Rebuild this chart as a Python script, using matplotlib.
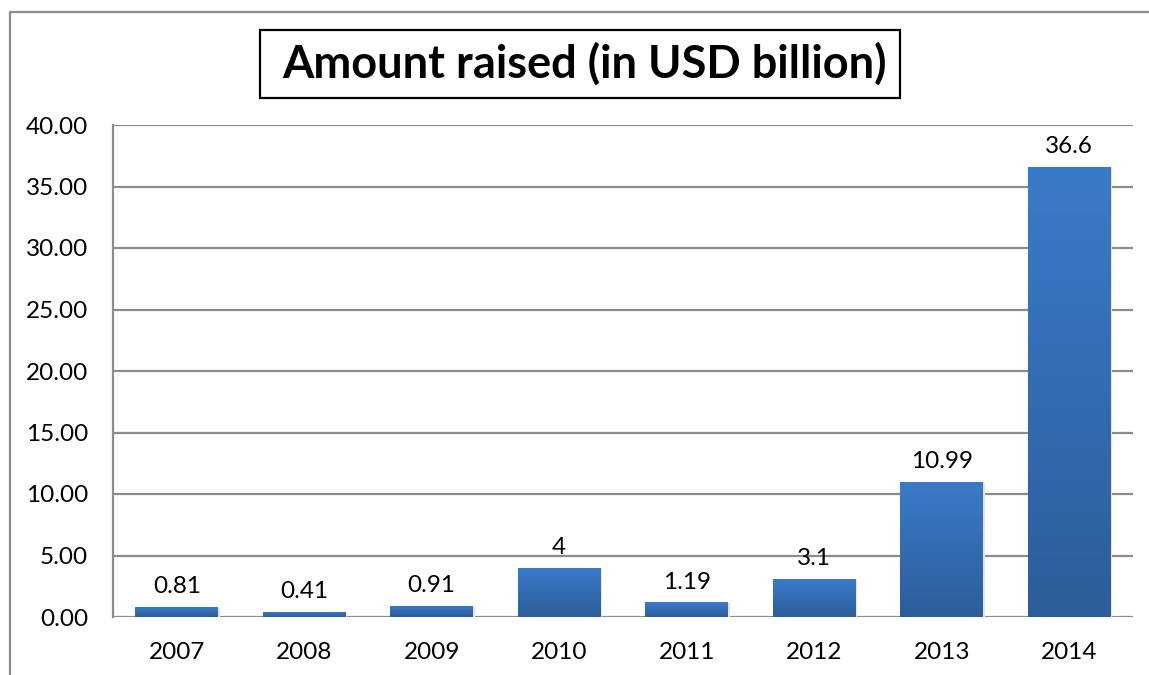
import matplotlib
matplotlib.use("Agg")
import matplotlib.pyplot as plt
import numpy as np
from matplotlib.patches import Rectangle
from matplotlib.lines import Line2D
from matplotlib.colors import LinearSegmentedColormap

years = ["2007", "2008", "2009", "2010", "2011", "2012", "2013", "2014"]
amounts = [0.81, 0.41, 0.91, 4, 1.19, 3.1, 10.99, 36.6]
labels = ["0.81", "0.41", "0.91", "4", "1.19", "3.1", "10.99", "36.6"]
yticks = [0, 5, 10, 15, 20, 25, 30, 35, 40]
title = "Amount raised (in USD billion)"

W, H = 1149, 675
fig = plt.figure(figsize=(W / 100, H / 100), dpi=100)
plt.rcParams['font.family'] = ['Lato', 'DejaVu Sans']

# outer chart border (left and top visible)
fig.add_artist(Line2D([10 / W, 10 / W, 1.0], [0.0, 1 - 12 / H, 1 - 12 / H],
                      transform=fig.transFigure, color="#8c8c8c", lw=1.6))

ax = fig.add_axes([113 / W, 1 - 617 / H, (1133 - 113) / W, (617 - 125) / H])
ax.set_xlim(-0.5, len(years) - 0.5)
ax.set_ylim(0, 40)
ax.set_yticks(yticks)
ax.set_yticklabels([f"{v:.2f}" for v in yticks])
ax.set_xticks(range(len(years)))
ax.set_xticklabels(years)
ax.tick_params(axis="both", length=0, labelsize=17.5, colors="black")
ax.tick_params(axis="y", pad=18)
ax.tick_params(axis="x", pad=18)
for s in ["top", "right", "bottom"]:
    ax.spines[s].set_visible(False)
ax.spines["left"].set_color("#8c8c8c")
ax.spines["left"].set_linewidth(1.6)
ax.yaxis.grid(True, color="#8c8c8c", lw=1.6)
ax.set_axisbelow(True)

cmap = LinearSegmentedColormap.from_list("g", ["#2d5d9a", "#3a7bc9"])
bw = 0.65
bars = ax.bar(range(len(years)), amounts, width=bw, color="none", zorder=3)
grad = np.linspace(0, 1, 256).reshape(-1, 1)
for b in bars:
    x0, y0 = b.get_x(), b.get_y()
    w, h = b.get_width(), b.get_height()
    # soft shadow
    ax.add_patch(Rectangle((x0 + 0.006, y0), w + 0.006, h - 0.05, color="#e4e4e4",
                           zorder=2, lw=0))
    im = ax.imshow(grad, extent=[x0, x0 + w, y0, y0 + h], origin="lower",
                   cmap=cmap, aspect="auto", zorder=3)
    im.set_clip_path(b)
ax.set_xlim(-0.5, len(years) - 0.5)
ax.set_ylim(0, 40)

for i, (v, lab) in enumerate(zip(amounts, labels)):
    ax.annotate(lab, (i, v), xytext=(0, 7), textcoords="offset points",
                ha="center", va="bottom", fontsize=17.5, color="black", zorder=5)

# title box
fig.add_artist(Rectangle((260 / W, 1 - 98 / H), (900 - 260) / W, (98 - 30) / H,
                         transform=fig.transFigure, fill=False, ec="black", lw=1.6))
fig.text(585 / W, 1 - 64 / H, title, ha="center", va="center",
         fontsize=32.5, fontweight="bold", color="black")

fig.savefig("out.png", dpi=100)
